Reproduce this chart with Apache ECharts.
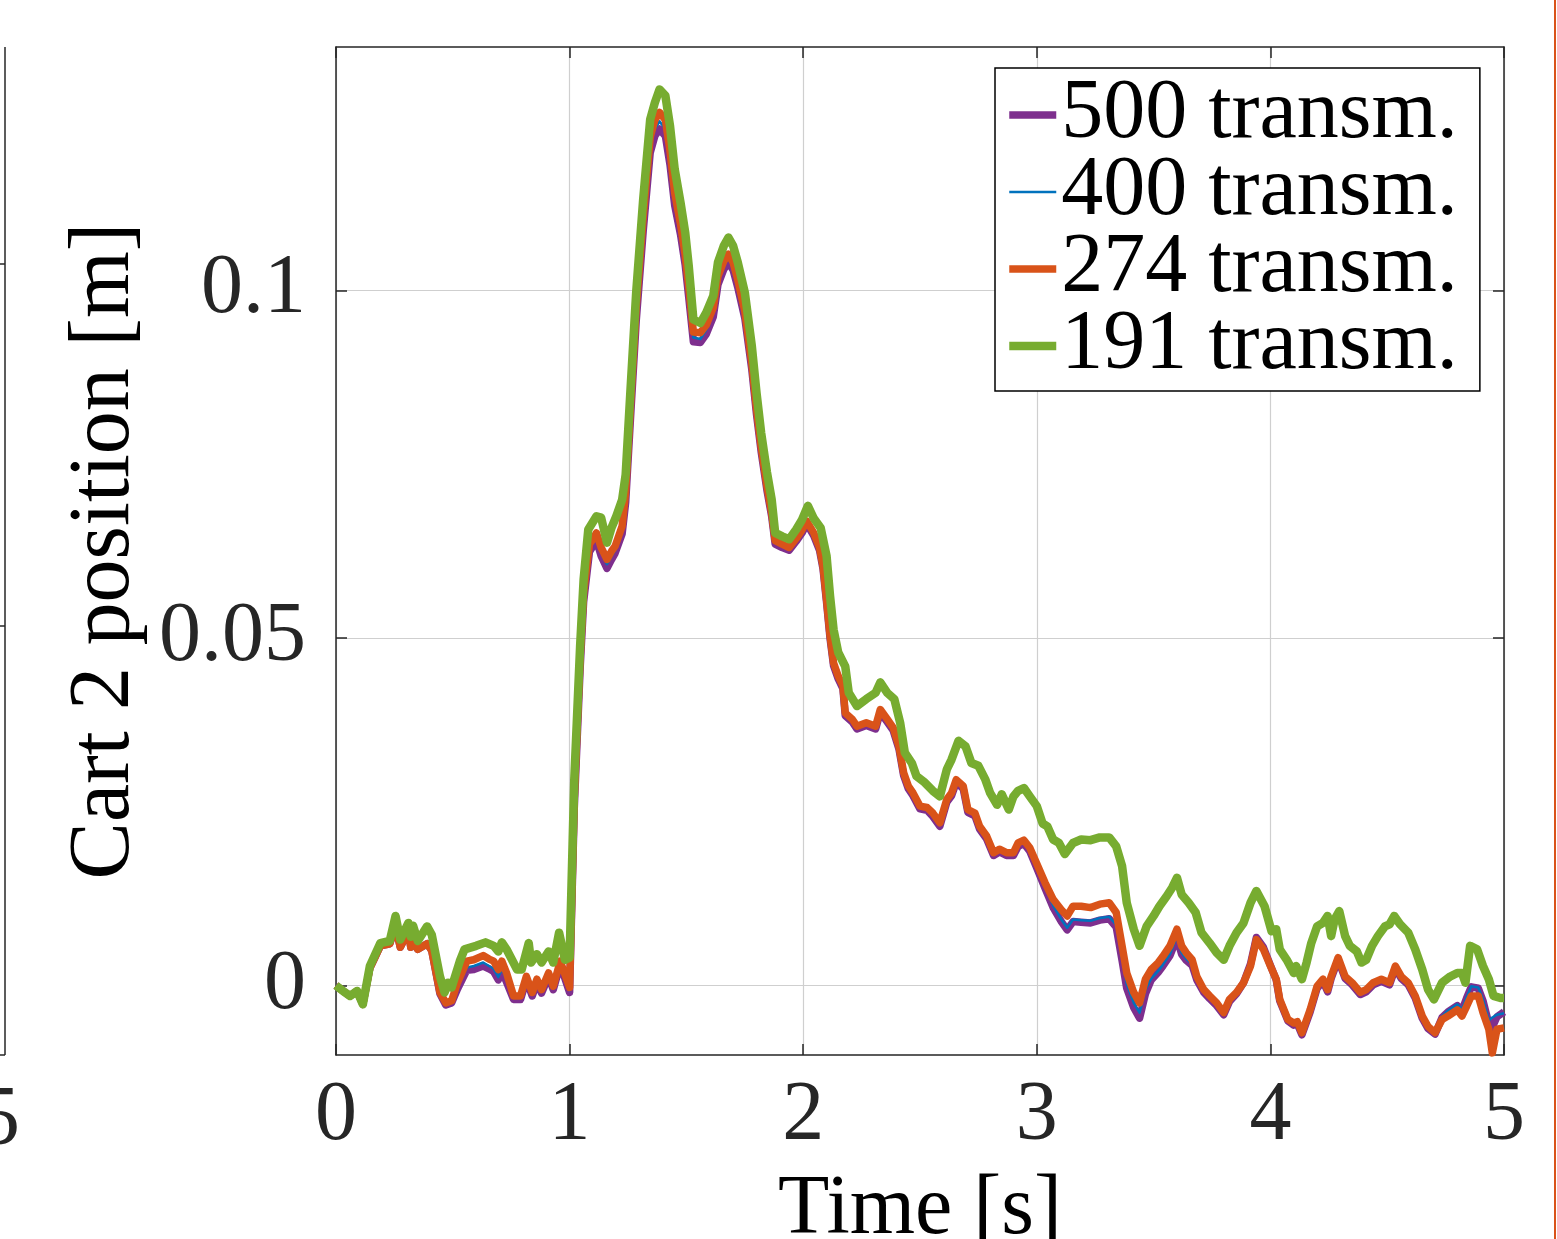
<!DOCTYPE html>
<html>
<head>
<meta charset="utf-8">
<script src="https://cdn.jsdelivr.net/npm/echarts@6/dist/echarts.min.js"></script>
<style>
html, body { margin: 0; padding: 0; background: #fff; }
#chart { width: 1557px; height: 1239px; }
</style>
</head>
<body>
<div id="chart"></div>
<script>
// time stamps shared by the 500 / 400 / 274 transmission runs
var timeA = [
    0, 0.03, 0.06, 0.09, 0.115, 0.145, 0.19, 0.23, 0.255, 0.275,
    0.31, 0.32, 0.33, 0.35, 0.39, 0.41, 0.445, 0.47, 0.495, 0.52,
    0.56, 0.59, 0.63, 0.655, 0.675, 0.695, 0.71, 0.73, 0.76, 0.79,
    0.815, 0.84, 0.86, 0.88, 0.91, 0.93, 0.96, 1.0, 1.02, 1.045,
    1.06, 1.085, 1.10, 1.115, 1.135, 1.16, 1.18, 1.195, 1.225, 1.24,
    1.26, 1.285, 1.315, 1.345, 1.365, 1.385, 1.41, 1.43, 1.45, 1.475,
    1.495, 1.51, 1.53, 1.56, 1.585, 1.615, 1.635, 1.66, 1.68, 1.70,
    1.72, 1.75, 1.78, 1.80, 1.82, 1.845, 1.865, 1.88, 1.91, 1.94,
    1.97, 1.995, 2.015, 2.045, 2.07, 2.085, 2.10, 2.115, 2.13, 2.15,
    2.17, 2.18, 2.21, 2.23, 2.27, 2.31, 2.33, 2.36, 2.385, 2.41,
    2.43, 2.45, 2.47, 2.50, 2.53, 2.555, 2.585, 2.615, 2.635, 2.655,
    2.685, 2.705, 2.735, 2.755, 2.785, 2.815, 2.84, 2.87, 2.90, 2.92,
    2.945, 2.97, 3.0, 3.035, 3.07, 3.105, 3.13, 3.155, 3.19, 3.23,
    3.27, 3.31, 3.34, 3.365, 3.385, 3.415, 3.44, 3.465, 3.49, 3.52,
    3.54, 3.57, 3.60, 3.62, 3.64, 3.665, 3.685, 3.715, 3.74, 3.77,
    3.80, 3.825, 3.855, 3.885, 3.915, 3.94, 3.97, 4.0, 4.025, 4.04,
    4.075, 4.10, 4.115, 4.135, 4.17, 4.20, 4.225, 4.245, 4.26, 4.29,
    4.32, 4.35, 4.385, 4.41, 4.44, 4.475, 4.51, 4.535, 4.56, 4.59,
    4.62, 4.65, 4.675, 4.705, 4.735, 4.76, 4.80, 4.82, 4.84, 4.86,
    4.89, 4.91, 4.935, 4.95, 4.97, 5.0
];

var pos500 = [
    0, -0.0008, -0.0015, -0.0008, -0.0027, 0.0025, 0.0057, 0.0060, 0.0085, 0.0055,
    0.0078, 0.0055, 0.0062, 0.0052, 0.0060, 0.0050, -0.0012, -0.0028, -0.0025, -0.0005,
    0.0022, 0.0023, 0.0028, 0.0024, 0.0020, 0.0008, 0.0020, 0.0005, -0.0020, -0.0020,
    0.0008, -0.0015, 0.0004, -0.0011, 0.0013, -0.0006, 0.0030, -0.0010, 0.0255, 0.0455,
    0.0552, 0.0624, 0.0632, 0.0640, 0.0618, 0.0600, 0.0613, 0.0622, 0.0650, 0.0695,
    0.0812, 0.0955, 0.1085, 0.1198, 0.1222, 0.1232, 0.1222, 0.1180, 0.1122, 0.1080,
    0.1036, 0.0990, 0.0926, 0.0925, 0.0937, 0.0962, 0.1008, 0.1030, 0.1040, 0.1029,
    0.1004, 0.0960, 0.0886, 0.0822, 0.0768, 0.0712, 0.0675, 0.0635, 0.0630, 0.0626,
    0.0639, 0.0651, 0.0664, 0.0647, 0.0626, 0.0599, 0.0551, 0.0499, 0.0460, 0.0441,
    0.0427, 0.0388, 0.0379, 0.0369, 0.0374, 0.0369, 0.0393, 0.0379, 0.0367, 0.0340,
    0.0302, 0.0283, 0.0273, 0.0254, 0.0252, 0.0243, 0.0229, 0.0264, 0.0273, 0.0292,
    0.0283, 0.0249, 0.0244, 0.0225, 0.0211, 0.0187, 0.0192, 0.0187, 0.0187, 0.0200,
    0.0204, 0.0193, 0.0169, 0.0140, 0.0112, 0.0092, 0.0080, 0.0092, 0.0091, 0.0090,
    0.0094, 0.0096, 0.0084, 0.0036, -0.0004, -0.0032, -0.0047, -0.0012, 0.0008, 0.0019,
    0.0028, 0.0043, 0.0068, 0.0045, 0.0036, 0.0029, 0.0008, -0.0010, -0.0019, -0.0029,
    -0.0042, -0.0023, -0.0012, 0.0004, 0.0031, 0.0069, 0.0055, 0.0029, 0.0008, -0.0022,
    -0.0051, -0.0057, -0.0055, -0.0071, -0.0038, -0.0004, 0.0006, -0.0009, 0.0010, 0.0037,
    0.0010, 0.0001, -0.0013, -0.0009, 0.0001, 0.0006, 0.0001, 0.0025, 0.0010, 0.0001,
    -0.0018, -0.0047, -0.0062, -0.0070, -0.0046, -0.0038, -0.0029, -0.0036, -0.0018, -0.0002,
    -0.0004, -0.0022, -0.0055, -0.0060, -0.0045, -0.0038
];

var pos400 = [
    0, -0.0008, -0.0015, -0.0008, -0.0027, 0.0025, 0.0057, 0.0060, 0.0085, 0.0055,
    0.0078, 0.0055, 0.0062, 0.0052, 0.0060, 0.0050, -0.0011, -0.0027, -0.0024, -0.0002,
    0.0026, 0.0028, 0.0033, 0.0028, 0.0024, 0.0012, 0.0024, 0.0009, -0.0018, -0.0018,
    0.0010, -0.0013, 0.0006, -0.0009, 0.0015, -0.0004, 0.0032, -0.0007, 0.0262, 0.0462,
    0.0558, 0.0629, 0.0637, 0.0645, 0.0623, 0.0606, 0.0618, 0.0626, 0.0655, 0.0702,
    0.0820, 0.0965, 0.1095, 0.1208, 0.1232, 0.1243, 0.1232, 0.1189, 0.1130, 0.1087,
    0.1043, 0.0997, 0.0932, 0.0930, 0.0943, 0.0968, 0.1014, 0.1036, 0.1046, 0.1034,
    0.1009, 0.0965, 0.0890, 0.0826, 0.0771, 0.0715, 0.0677, 0.0637, 0.0632, 0.0628,
    0.0641, 0.0653, 0.0666, 0.0649, 0.0628, 0.0601, 0.0553, 0.0501, 0.0462, 0.0443,
    0.0429, 0.0390, 0.0381, 0.0371, 0.0376, 0.0371, 0.0395, 0.0381, 0.0369, 0.0342,
    0.0304, 0.0285, 0.0275, 0.0256, 0.0254, 0.0245, 0.0231, 0.0266, 0.0275, 0.0294,
    0.0285, 0.0251, 0.0246, 0.0227, 0.0213, 0.0189, 0.0194, 0.0189, 0.0189, 0.0202,
    0.0206, 0.0195, 0.0171, 0.0142, 0.0115, 0.0095, 0.0083, 0.0095, 0.0094, 0.0093,
    0.0097, 0.0099, 0.0087, 0.0040, 0.0002, -0.0025, -0.0039, -0.0006, 0.0010, 0.0021,
    0.0030, 0.0045, 0.0070, 0.0047, 0.0038, 0.0031, 0.0010, -0.0008, -0.0017, -0.0027,
    -0.0040, -0.0021, -0.0011, 0.0004, 0.0030, 0.0068, 0.0054, 0.0028, 0.0008, -0.0021,
    -0.0050, -0.0055, -0.0053, -0.0069, -0.0036, -0.0002, 0.0008, -0.0007, 0.0012, 0.0039,
    0.0012, 0.0003, -0.0011, -0.0007, 0.0003, 0.0008, 0.0003, 0.0027, 0.0012, 0.0003,
    -0.0016, -0.0045, -0.0060, -0.0069, -0.0044, -0.0036, -0.0027, -0.0034, -0.0017, -0.0001,
    -0.0003, -0.0020, -0.0050, -0.0046, -0.0042, -0.0040
];

var pos274 = [
    0, -0.0008, -0.0015, -0.0008, -0.0027, 0.0025, 0.0057, 0.0060, 0.0085, 0.0055,
    0.0078, 0.0055, 0.0062, 0.0052, 0.0060, 0.0050, -0.0010, -0.0025, -0.0022, 0.0004,
    0.0035, 0.0037, 0.0043, 0.0038, 0.0035, 0.0023, 0.0035, 0.0018, -0.0015, -0.0015,
    0.0013, -0.0010, 0.0009, -0.0006, 0.0018, -0.0001, 0.0035, -0.0003, 0.0270, 0.0470,
    0.0565, 0.0635, 0.0642, 0.0651, 0.0630, 0.0613, 0.0625, 0.0632, 0.0661, 0.0710,
    0.0830, 0.0975, 0.1105, 0.1220, 0.1245, 0.1256, 0.1245, 0.1200, 0.1140, 0.1095,
    0.1050, 0.1005, 0.0940, 0.0939, 0.0950, 0.0975, 0.1020, 0.1042, 0.1052, 0.1040,
    0.1015, 0.0970, 0.0895, 0.0830, 0.0775, 0.0718, 0.0680, 0.0640, 0.0635, 0.0630,
    0.0643, 0.0655, 0.0668, 0.0651, 0.0630, 0.0603, 0.0555, 0.0503, 0.0464, 0.0445,
    0.0431, 0.0392, 0.0383, 0.0373, 0.0378, 0.0373, 0.0397, 0.0383, 0.0371, 0.0344,
    0.0306, 0.0287, 0.0277, 0.0258, 0.0256, 0.0248, 0.0234, 0.0268, 0.0277, 0.0296,
    0.0287, 0.0253, 0.0248, 0.0229, 0.0215, 0.0191, 0.0196, 0.0191, 0.0191, 0.0205,
    0.0209, 0.0198, 0.0175, 0.0148, 0.0124, 0.0109, 0.0100, 0.0114, 0.0114, 0.0112,
    0.0117, 0.0119, 0.0105, 0.0057, 0.0018, -0.0010, -0.0025, 0.0009, 0.0023, 0.0033,
    0.0042, 0.0057, 0.0081, 0.0057, 0.0047, 0.0037, 0.0013, -0.0006, -0.0015, -0.0025,
    -0.0039, -0.0020, -0.0010, 0.0004, 0.0028, 0.0066, 0.0052, 0.0028, 0.0009, -0.0020,
    -0.0049, -0.0054, -0.0052, -0.0068, -0.0035, -0.0001, 0.0009, -0.0006, 0.0013, 0.0040,
    0.0013, 0.0004, -0.0010, -0.0006, 0.0004, 0.0009, 0.0004, 0.0028, 0.0013, 0.0004,
    -0.0015, -0.0044, -0.0059, -0.0068, -0.0049, -0.0044, -0.0035, -0.0044, -0.0030, -0.0015,
    -0.0015, -0.0039, -0.0063, -0.0097, -0.0063, -0.0061
];

// 191 transmissions has its own time stamps
var time191 = [
    0, 0.03, 0.06, 0.09, 0.115, 0.145, 0.19, 0.23, 0.255, 0.275,
    0.31, 0.32, 0.33, 0.35, 0.39, 0.41, 0.445, 0.465, 0.48, 0.495,
    0.53, 0.55, 0.60, 0.64, 0.675, 0.695, 0.71, 0.73, 0.775, 0.795,
    0.825, 0.835, 0.86, 0.88, 0.91, 0.93, 0.955, 0.98, 1.0, 1.02,
    1.045, 1.06, 1.08, 1.115, 1.135, 1.16, 1.18, 1.20, 1.225, 1.24,
    1.26, 1.285, 1.315, 1.345, 1.365, 1.385, 1.41, 1.43, 1.45, 1.475,
    1.495, 1.51, 1.53, 1.56, 1.585, 1.615, 1.635, 1.66, 1.68, 1.70,
    1.72, 1.75, 1.78, 1.80, 1.82, 1.845, 1.865, 1.88, 1.91, 1.94,
    1.97, 1.995, 2.02, 2.045, 2.075, 2.10, 2.115, 2.13, 2.15, 2.18,
    2.195, 2.23, 2.27, 2.31, 2.33, 2.36, 2.39, 2.415, 2.435, 2.465,
    2.485, 2.52, 2.555, 2.585, 2.615, 2.635, 2.665, 2.695, 2.72, 2.75,
    2.78, 2.80, 2.83, 2.85, 2.88, 2.90, 2.92, 2.945, 2.97, 3.0,
    3.025, 3.045, 3.07, 3.095, 3.12, 3.155, 3.19, 3.23, 3.27, 3.31,
    3.34, 3.365, 3.385, 3.415, 3.44, 3.47, 3.50, 3.525, 3.555, 3.58,
    3.60, 3.62, 3.65, 3.68, 3.705, 3.74, 3.77, 3.80, 3.825, 3.855,
    3.885, 3.915, 3.94, 3.975, 4.005, 4.025, 4.04, 4.07, 4.10, 4.11,
    4.135, 4.155, 4.175, 4.20, 4.225, 4.245, 4.26, 4.275, 4.295, 4.32,
    4.34, 4.37, 4.39, 4.41, 4.435, 4.46, 4.49, 4.51, 4.53, 4.555,
    4.59, 4.62, 4.65, 4.675, 4.70, 4.735, 4.77, 4.80, 4.82, 4.835,
    4.855, 4.885, 4.91, 4.935, 4.955, 4.985, 5.0
];

var pos191 = [
    0, -0.0008, -0.0015, -0.0008, -0.0027, 0.0028, 0.0061, 0.0064, 0.0100, 0.0066,
    0.0090, 0.0070, 0.0086, 0.0064, 0.0085, 0.0073, 0.0013, -0.0010, 0.0004, -0.0003,
    0.0035, 0.0052, 0.0057, 0.0062, 0.0057, 0.0049, 0.0062, 0.0052, 0.0023, 0.0023,
    0.0061, 0.0033, 0.0045, 0.0033, 0.0049, 0.0033, 0.0076, 0.0037, 0.0040, 0.0296,
    0.0488, 0.0584, 0.0656, 0.0675, 0.0673, 0.0637, 0.0659, 0.0675, 0.0699, 0.0735,
    0.0853, 0.0997, 0.1131, 0.1246, 0.1270, 0.1289, 0.1280, 0.1236, 0.1174, 0.1126,
    0.1083, 0.1035, 0.0958, 0.0953, 0.0968, 0.0992, 0.1040, 0.1064, 0.1076, 0.1064,
    0.1040, 0.0997, 0.0920, 0.0853, 0.0795, 0.0738, 0.0699, 0.0651, 0.0646, 0.0642,
    0.0656, 0.0670, 0.0690, 0.0672, 0.0658, 0.0618, 0.0560, 0.0512, 0.0479, 0.0459,
    0.0421, 0.0402, 0.0412, 0.0421, 0.0436, 0.0421, 0.0412, 0.0378, 0.0335, 0.0320,
    0.0301, 0.0292, 0.0280, 0.0272, 0.0311, 0.0325, 0.0352, 0.0344, 0.0320, 0.0316,
    0.0296, 0.0277, 0.0260, 0.0275, 0.0253, 0.0272, 0.0280, 0.0284, 0.0272, 0.0258,
    0.0233, 0.0229, 0.0210, 0.0205, 0.0189, 0.0205, 0.0210, 0.0209, 0.0213, 0.0213,
    0.0200, 0.0172, 0.0119, 0.0081, 0.0057, 0.0085, 0.0100, 0.0114, 0.0128, 0.0141,
    0.0155, 0.0131, 0.0119, 0.0105, 0.0076, 0.0061, 0.0047, 0.0037, 0.0057, 0.0076,
    0.0090, 0.0119, 0.0136, 0.0114, 0.0078, 0.0081, 0.0052, 0.0037, 0.0018, 0.0028,
    0.0009, 0.0033, 0.0061, 0.0085, 0.0090, 0.0100, 0.0071, 0.0095, 0.0107, 0.0071,
    0.0057, 0.0049, 0.0033, 0.0037, 0.0057, 0.0071, 0.0085, 0.0088, 0.0100, 0.0088,
    0.0076, 0.0052, 0.0023, -0.0006, -0.0020, 0.0004, 0.0013, 0.0018, 0.0018, 0.0004,
    0.0057, 0.0052, 0.0028, 0.0009, -0.0015, -0.0018, -0.0018
];

var names = ['500 transm.', '400 transm.', '274 transm.', '191 transm.'];
var colors = ['#7E2F8E', '#0072BD', '#D95319', '#77AC30'];
var widths = [7.5, 2.5, 7.5, 8.5];
var xTicks = [0, 1, 2, 3, 4, 5];
var yTicks = [0, 0.05, 0.1];

var font = '"Liberation Serif", "Times New Roman", serif';
var axisColor = '#262626';
var gridColor = '#cfcfcf';

function pairs(t, y) {
    return t.map(function (v, i) { return [v, y[i]]; });
}

var seriesData = [
    pairs(timeA, pos500),
    pairs(timeA, pos400),
    pairs(timeA, pos274),
    pairs(time191, pos191)
];

var chart = echarts.init(document.getElementById('chart'));

var option = {
    animation: false,
    backgroundColor: '#fff',
    grid: {
        left: 336,
        top: 47,
        right: 53,
        bottom: 184,
        containLabel: false,
        outerBoundsMode: 'none'
    },
    legend: {
        orient: 'vertical',
        left: 995,
        top: 68,
        data: names.map(function (n, i) {
            return { name: n, lineStyle: { width: widths[i] } };
        }),
        backgroundColor: '#fff',
        borderColor: '#000',
        borderWidth: 1.5,
        borderRadius: 0,
        padding: [5, 22, 3, 10],
        itemGap: -7,
        itemWidth: 47,
        itemHeight: 12,
        itemStyle: { opacity: 0 },
        textStyle: {
            fontFamily: font,
            fontSize: 84,
            color: '#000'
        }
    },
    xAxis: [{
        type: 'value',
        min: 0,
        max: 5,
        interval: 1,
        name: 'Time [s]',
        nameLocation: 'middle',
        nameGap: 114,
        nameTextStyle: { fontFamily: font, fontSize: 84, color: '#000' },
        axisLine: { show: true, onZero: false, lineStyle: { color: axisColor, width: 1.5 } },
        axisTick: { show: true, inside: true, length: 11, lineStyle: { color: axisColor, width: 1.5 } },
        axisLabel: {
            fontFamily: font,
            fontSize: 84,
            color: axisColor,
            margin: 20,
            customValues: xTicks
        },
        splitLine: { show: true, lineStyle: { color: gridColor, width: 1.2 } }
    }, {
        type: 'value',
        position: 'top',
        min: 0,
        max: 5,
        interval: 1,
        axisLine: { show: true, onZero: false, lineStyle: { color: axisColor, width: 1.5 } },
        axisTick: { show: true, inside: true, length: 11, lineStyle: { color: axisColor, width: 1.5 } },
        axisLabel: { show: false },
        splitLine: { show: false }
    }],
    yAxis: [{
        type: 'value',
        min: -0.01,
        max: 0.135,
        name: 'Cart 2 position [m]',
        nameLocation: 'middle',
        nameGap: 172,
        nameRotate: 90,
        nameTextStyle: { fontFamily: font, fontSize: 86, color: '#000' },
        axisLine: { show: true, onZero: false, lineStyle: { color: axisColor, width: 1.5 } },
        axisTick: { show: true, inside: true, length: 11, customValues: yTicks, lineStyle: { color: axisColor, width: 1.5 } },
        axisLabel: {
            fontFamily: font,
            fontSize: 84,
            color: axisColor,
            margin: 30,
            customValues: yTicks
        },
        splitLine: { show: true, lineStyle: { color: gridColor, width: 1.2 } }
    }, {
        type: 'value',
        position: 'right',
        min: -0.01,
        max: 0.135,
        axisLine: { show: true, onZero: false, lineStyle: { color: axisColor, width: 1.5 } },
        axisTick: { show: true, inside: true, length: 11, customValues: yTicks, lineStyle: { color: axisColor, width: 1.5 } },
        axisLabel: { show: false, customValues: yTicks },
        splitLine: { show: false }
    }],
    series: names.map(function (n, i) {
        return {
            name: n,
            type: 'line',
            data: seriesData[i],
            symbol: 'none',
            showSymbol: false,
            smooth: false,
            clip: true,
            color: colors[i],
            lineStyle: { color: colors[i], width: widths[i], join: 'round' },
            z: 2 + i
        };
    }),
    graphic: [
        // edge of the neighbouring panel (cropped)
        { type: 'line', shape: { x1: 5, y1: 47, x2: 5, y2: 1055 }, style: { stroke: axisColor, lineWidth: 1.5 } },
        { type: 'line', shape: { x1: 0, y1: 1055, x2: 5, y2: 1055 }, style: { stroke: axisColor, lineWidth: 1.5 } },
        { type: 'line', shape: { x1: 0, y1: 264, x2: 5, y2: 264 }, style: { stroke: axisColor, lineWidth: 1.5 } },
        { type: 'line', shape: { x1: 0, y1: 626, x2: 5, y2: 626 }, style: { stroke: axisColor, lineWidth: 1.5 } },
        { type: 'text', left: -22, top: 1080, style: { text: '5', font: '84px ' + font, fill: axisColor } },
        { type: 'line', shape: { x1: 1555, y1: 0, x2: 1555, y2: 1239 }, style: { stroke: '#D95319', lineWidth: 2 } }
    ]
};

chart.setOption(option);

window.onresize = function () {
    chart.resize();
};
</script>
</body>
</html>
